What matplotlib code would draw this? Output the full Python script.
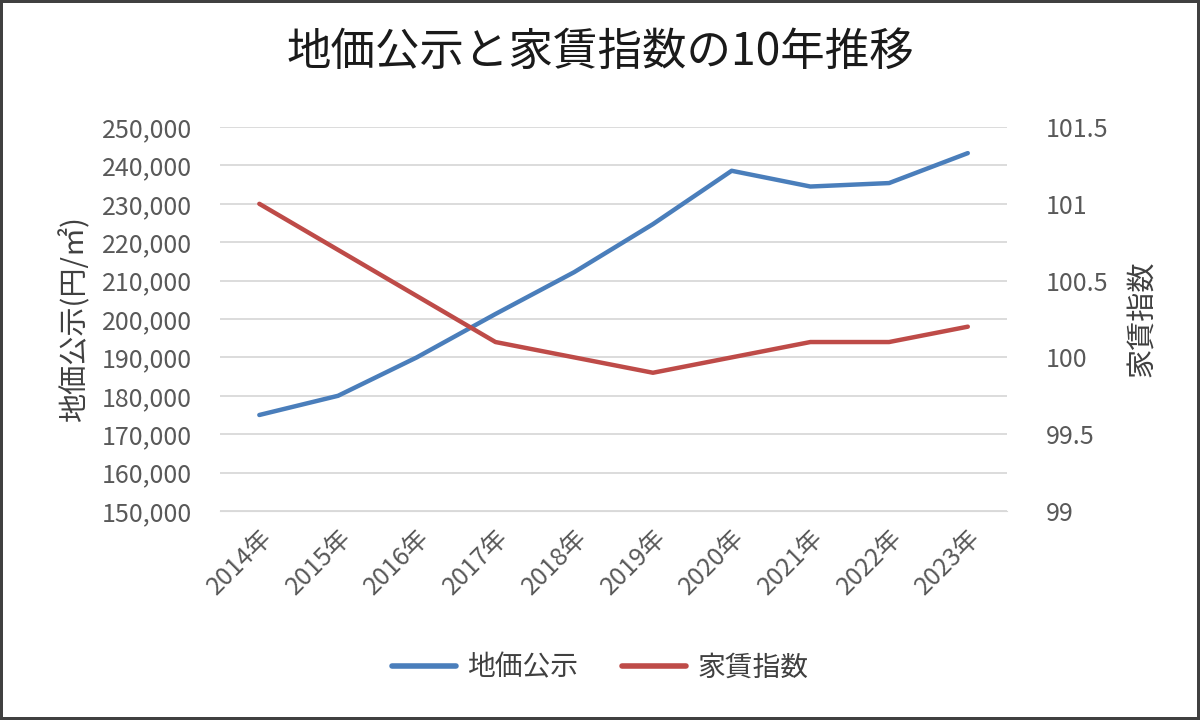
import matplotlib
matplotlib.use("Agg")
import matplotlib.pyplot as plt
from matplotlib.ticker import FuncFormatter, MultipleLocator

plt.rcParams['font.family'] = ['Noto Sans CJK JP', 'DejaVu Sans']

# ---- data ----
years = ['2014年', '2015年', '2016年', '2017年', '2018年',
         '2019年', '2020年', '2021年', '2022年', '2023年']
land_price = [175000, 180000, 190000, 201300, 212200,
              224700, 238600, 234500, 235400, 243200]
rent_index = [101.0, 100.7, 100.4, 100.1, 100.0,
              99.9, 100.0, 100.1, 100.1, 100.2]

blue = '#4A7EBB'
red = '#BE4B48'
txt = '#595959'

fig = plt.figure(figsize=(12, 7.2), dpi=100, edgecolor='#404040', linewidth=4)
ax = fig.add_axes([0.1833, 0.2903, 0.656, 0.5333])
ax2 = ax.twinx()

x = range(len(years))
l1, = ax.plot(x, land_price, color=blue, lw=3.2, label='地価公示', solid_capstyle='round')
l2, = ax2.plot(x, rent_index, color=red, lw=3.2, label='家賃指数', solid_capstyle='round')

ax.set_xlim(-0.5, len(years) - 0.5)
ax.set_ylim(150000, 250000)
ax.yaxis.set_major_locator(MultipleLocator(10000))
ax.yaxis.set_major_formatter(FuncFormatter(lambda v, p: f'{int(v):,}'))
ax2.set_ylim(99, 101.5)
ax2.yaxis.set_major_locator(MultipleLocator(0.5))
ax2.yaxis.set_major_formatter(FuncFormatter(lambda v, p: f'{v:g}'))

ax.grid(axis='y', color='#D9D9D9', lw=1.3)
ax.set_axisbelow(True)
for a in (ax, ax2):
    for s in a.spines.values():
        s.set_visible(False)
    a.tick_params(axis='both', length=0, labelsize=18, colors=txt)
ax.tick_params(axis='y', pad=20)
ax2.tick_params(axis='y', pad=28)
ax.spines['bottom'].set_visible(True)
ax.spines['bottom'].set_color('#D9D9D9')

ax.set_xticks(list(x))
ax.set_xticklabels(years, rotation=45, ha='right', rotation_mode='anchor')
ax.tick_params(axis='x', pad=10)

ax.set_ylabel('地価公示(円/㎡)', fontsize=21, color='#404040', labelpad=8)
ax2.set_ylabel('家賃指数', fontsize=21, color='#404040', labelpad=14)

fig.suptitle('地価公示と家賃指数の10年推移', fontsize=32, y=0.96, color='#1a1a1a')

leg = fig.legend(handles=[l1, l2], loc='center', bbox_to_anchor=(0.5, 0.073), ncol=2,
                 frameon=False, fontsize=20, handlelength=2.3, handletextpad=0.4,
                 columnspacing=1.6, labelcolor='#404040')
for h in leg.get_lines():
    h.set_linewidth(4)

fig.savefig('out.png', dpi=100, edgecolor=fig.get_edgecolor(), facecolor='white')
